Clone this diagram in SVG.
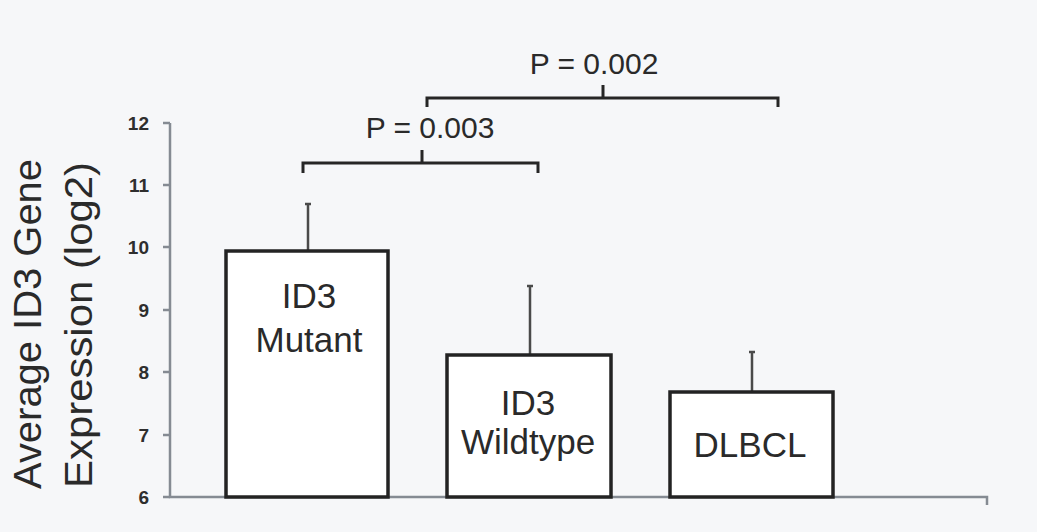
<svg xmlns="http://www.w3.org/2000/svg" width="1037" height="532" viewBox="0 0 1037 532">
<style>
.bg{fill:#f6f7f9}
.axis{stroke:#858b93;stroke-width:2.5;fill:none}
.bar{fill:#ffffff;stroke:#232323;stroke-width:3.5}
.err{stroke:#4a4a4a;stroke-width:2.5;fill:none}
.brk{stroke:#262626;stroke-width:3;fill:none}
.tick{font-family:"Liberation Sans",Arial,sans-serif;font-size:19px;font-weight:bold;fill:#2e2e2e;text-anchor:end}
.lbl{font-family:"Liberation Sans",Arial,sans-serif;font-size:35px;fill:#2a2a2a;text-anchor:middle}
.pv{font-family:"Liberation Sans",Arial,sans-serif;font-size:30px;fill:#2a2a2a;text-anchor:middle}
.ttl{font-family:"Liberation Sans",Arial,sans-serif;font-size:38px;fill:#2a2a2a;text-anchor:middle}
</style>
<rect class="bg" x="0" y="0" width="1037" height="532"/>
<g id="axes">
<path class="axis" d="M170,123 V497 H987 V505"/>
<path class="axis" d="M163,123 H170 M163,185 H170 M163,247 H170 M163,310 H170 M163,372 H170 M163,435 H170 M163,497 H170"/>
<text class="tick" x="149" y="130">12</text>
<text class="tick" x="149" y="192">11</text>
<text class="tick" x="149" y="254">10</text>
<text class="tick" x="149" y="317">9</text>
<text class="tick" x="149" y="379">8</text>
<text class="tick" x="149" y="442">7</text>
<text class="tick" x="149" y="504">6</text>
<text class="ttl" transform="translate(41,324) rotate(-90)" textLength="330" lengthAdjust="spacingAndGlyphs">Average ID3 Gene</text>
<text class="ttl" transform="translate(92,325) rotate(-90)" textLength="326" lengthAdjust="spacingAndGlyphs">Expression (log2)</text>
</g>
<g id="connectors">
<path class="err" d="M308,251 V204 M305,204 H311"/>
<path class="err" d="M530,355 V286 M527,286 H533"/>
<path class="err" d="M752,392 V352 M749,352 H755"/>
<path class="brk" d="M303,173 V163 H538 V173 M422,163 V150"/>
<path class="brk" d="M427,107 V98 H778 V107 M603,98 V85"/>
</g>
<g id="p003"><text class="pv" x="430" y="138">P = 0.003</text></g>
<g id="p002"><text class="pv" x="594" y="74">P = 0.002</text></g>
<g id="bar-mutant">
<rect class="bar" x="226" y="251" width="162" height="246"/>
<text class="lbl" x="309" y="308">ID3</text>
<text class="lbl" x="309" y="352">Mutant</text>
</g>
<g id="bar-wildtype">
<rect class="bar" x="447" y="355" width="164" height="142"/>
<text class="lbl" x="528" y="415">ID3</text>
<text class="lbl" x="528" y="454">Wildtype</text>
</g>
<g id="bar-dlbcl">
<rect class="bar" x="670" y="392" width="163" height="105"/>
<text class="lbl" x="750" y="457">DLBCL</text>
</g>
</svg>
